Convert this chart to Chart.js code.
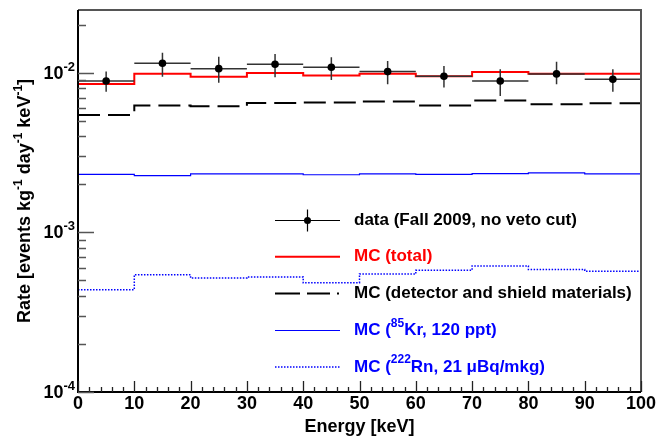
<!DOCTYPE html>
<html><head><meta charset="utf-8">
<script src="https://cdn.jsdelivr.net/npm/chart.js@4.4.1/dist/chart.umd.min.js"></script>
<style>html,body{margin:0;padding:0;background:#fff}#wrap{width:658px;height:438px}</style>
</head><body><div id="wrap"><canvas id="c" width="658" height="438"></canvas></div>
<script>
// ---- data ----
const binEdges = [0,10,20,30,40,50,60,70,80,90,100];
const binCenters = [5,15,25,35,45,55,65,75,85,95];
const dataRate = [0.00891,0.01150,0.01064,0.01134,0.01085,0.01019,0.00953,0.00891,0.00986,0.00913];
const dataHi   = [0.01019,0.01340,0.01265,0.01316,0.01254,0.01189,0.01106,0.01055,0.01177,0.01055];
const dataLo   = [0.00763,0.00948,0.00869,0.00939,0.00904,0.00849,0.00809,0.00718,0.00849,0.00763];
const mcTotal  = [0.00853,0.00990,0.00948,0.01000,0.00962,0.00990,0.00953,0.01015,0.00990,0.00990];
const mcDetector = [0.00545,0.00626,0.00618,0.00648,0.00652,0.00661,0.00626,0.00671,0.00636,0.00645];
const mcKr = [0.00231,0.00227,0.00233,0.00233,0.00230,0.00233,0.00231,0.00234,0.00236,0.00233];
const mcRn = [0.000437,0.000543,0.000519,0.000526,0.000484,0.000549,0.000580,0.000617,0.000585,0.000572];
const xTicks = [0,10,20,30,40,50,60,70,80,90,100];
const yDecades = [-4,-3,-2];

const FONT = '"Liberation Sans", Arial, Helvetica, sans-serif';
function hist(vals){ const d = vals.map((v,i)=>({x:binEdges[i],y:v})); d.push({x:binEdges[binEdges.length-1], y:vals[vals.length-1]}); return d; }

const rootDecor = {
  id:'rootDecor',
  afterDatasetsDraw(chart){
    const ctx = chart.ctx, xs = chart.scales.x, ys = chart.scales.y, a = chart.chartArea;
    ctx.save();
    // error bars + markers
    ctx.strokeStyle = '#333'; ctx.lineWidth = 1.5;
    binCenters.forEach((c,i)=>{
      const px = xs.getPixelForValue(c), py = ys.getPixelForValue(dataRate[i]);
      ctx.beginPath();
      ctx.moveTo(xs.getPixelForValue(c-5), py); ctx.lineTo(xs.getPixelForValue(c+5), py);
      ctx.moveTo(px, ys.getPixelForValue(dataHi[i])); ctx.lineTo(px, ys.getPixelForValue(dataLo[i]));
      ctx.stroke();
    });
    ctx.fillStyle = '#000';
    binCenters.forEach((c,i)=>{
      ctx.beginPath(); ctx.arc(xs.getPixelForValue(c), ys.getPixelForValue(dataRate[i]), 3.8, 0, Math.PI*2); ctx.fill();
    });
    // frame
    ctx.strokeStyle = '#555'; ctx.lineWidth = 2;
    ctx.beginPath(); ctx.moveTo(a.left, a.top); ctx.lineTo(a.right, a.top); ctx.lineTo(a.right, a.bottom); ctx.stroke();
    ctx.strokeStyle = '#000'; ctx.lineWidth = 2;
    ctx.beginPath(); ctx.moveTo(a.left, a.top); ctx.lineTo(a.left, a.bottom); ctx.lineTo(a.right, a.bottom); ctx.stroke();
    // x ticks
    ctx.strokeStyle = '#222'; ctx.lineWidth = 1.3;
    ctx.beginPath();
    for (let v=0; v<=100; v+=2){
      const px = Math.round(xs.getPixelForValue(v))+0.5;
      const len = (v%10===0)?11:5;
      ctx.moveTo(px, a.bottom); ctx.lineTo(px, a.bottom-len);
    }
    ctx.stroke();
    // y ticks
    ctx.strokeStyle = '#555'; ctx.lineWidth = 1.3;
    ctx.beginPath();
    for (let d=-4; d<=-2; d++){
      for (let m=1; m<=9; m++){
        const v = m*Math.pow(10,d);
        if (v < ys.min*0.999 || v > ys.max) continue;
        const py = Math.round(ys.getPixelForValue(v))+0.5;
        const len = m===1?16:8;
        ctx.moveTo(a.left, py); ctx.lineTo(a.left+len, py);
      }
    }
    ctx.stroke();
    // x tick labels
    ctx.fillStyle = '#000'; ctx.font = 'bold 18px '+FONT; ctx.textAlign='center'; ctx.textBaseline='middle';
    xTicks.forEach(v=>{ ctx.fillText(String(v), xs.getPixelForValue(v), a.bottom+12); });
    // y tick labels 10^d
    yDecades.forEach(d=>{
      const py = ys.getPixelForValue(Math.pow(10,d));
      ctx.textAlign='left'; ctx.textBaseline='middle';
      const sup = String(d);
      ctx.font = 'bold 13px '+FONT; const ws = ctx.measureText(sup).width;
      ctx.font = 'bold 18px '+FONT; const wb = ctx.measureText('10').width;
      const x0 = a.left - 3 - ws - wb;
      ctx.fillText('10', x0, py+1);
      ctx.font = 'bold 13px '+FONT; ctx.fillText(sup, x0+wb, py-6);
    });
    // x title
    ctx.font = 'bold 18px '+FONT; ctx.textAlign='center'; ctx.textBaseline='middle';
    ctx.fillText('Energy [keV]', (a.left+a.right)/2, 427);
    // y title with superscripts (rotated)
    const parts = [['Rate [events kg',0],['-1',1],[' day',0],['-1',1],[' keV',0],['-1',1],[']',0]];
    ctx.save();
    ctx.translate(25, (a.top+a.bottom)/2); ctx.rotate(-Math.PI/2);
    let tot = 0;
    parts.forEach(p=>{ ctx.font = (p[1]?'bold 12px ':'bold 18px ')+FONT; tot += ctx.measureText(p[0]).width; });
    let x = -tot/2; ctx.textAlign='left';
    parts.forEach(p=>{ ctx.font = (p[1]?'bold 12px ':'bold 18px ')+FONT; ctx.fillText(p[0], x, p[1]?-6:0); x += ctx.measureText(p[0]).width; });
    ctx.restore();
    // legend
    const lx0 = 275, lx1 = 340, tx = 354;
    const rows = [220.5, 256.7, 293.5, 330.5, 367];
    ctx.strokeStyle='#000'; ctx.lineWidth=1.2;
    ctx.beginPath(); ctx.moveTo(lx0, rows[0]); ctx.lineTo(lx1, rows[0]); ctx.moveTo((lx0+lx1)/2, rows[0]-11); ctx.lineTo((lx0+lx1)/2, rows[0]+11); ctx.stroke();
    ctx.beginPath(); ctx.arc((lx0+lx1)/2, rows[0], 3.5, 0, Math.PI*2); ctx.fill();
    ctx.strokeStyle='#ff0000'; ctx.lineWidth=2;
    ctx.beginPath(); ctx.moveTo(lx0, rows[1]); ctx.lineTo(lx1, rows[1]); ctx.stroke();
    ctx.strokeStyle='#000'; ctx.lineWidth=2; ctx.setLineDash([25,7,23,7,2,100]);
    ctx.beginPath(); ctx.moveTo(lx0, rows[2]); ctx.lineTo(lx1, rows[2]); ctx.stroke();
    ctx.setLineDash([]);
    ctx.strokeStyle='#0000ff'; ctx.lineWidth=1.2;
    ctx.beginPath(); ctx.moveTo(lx0, rows[3]); ctx.lineTo(lx1, rows[3]); ctx.stroke();
    ctx.setLineDash([1.5,1.5]); ctx.lineWidth=1.5;
    ctx.beginPath(); ctx.moveTo(lx0, rows[4]); ctx.lineTo(lx1, rows[4]); ctx.stroke();
    ctx.setLineDash([]);
    ctx.textAlign='left'; ctx.textBaseline='middle';
    function rich(parts, x, y, color){
      ctx.fillStyle = color;
      parts.forEach(p=>{ ctx.font=(p[1]?'bold 12px ':'bold 17px ')+FONT; ctx.fillText(p[0], x, p[1]?y-7:y); x += ctx.measureText(p[0]).width; });
    }
    rich([['data (Fall 2009, no veto cut)',0]], tx, rows[0], '#000');
    rich([['MC (total)',0]], tx, rows[1], '#ff0000');
    rich([['MC (detector and shield materials)',0]], tx, rows[2], '#000');
    rich([['MC (',0],['85',1],['Kr, 120 ppt)',0]], tx, rows[3], '#0000ff');
    rich([['MC (',0],['222',1],['Rn, 21 \u03BCBq/mkg)',0]], tx, rows[4], '#0000ff');
    ctx.restore();
  }
};

new Chart(document.getElementById('c'), {
  type:'line',
  data:{ datasets:[
    {label:'MC (Rn)', data:hist(mcRn), borderColor:'#0000ff', borderWidth:1.5, borderDash:[1.5,1.5], stepped:'before', pointRadius:0, fill:false},
    {label:'MC (Kr)', data:hist(mcKr), borderColor:'#0000ff', borderWidth:1.2, stepped:'before', pointRadius:0, fill:false},
    {label:'MC (detector)', data:hist(mcDetector), borderColor:'#000', borderWidth:2, borderDash:[22,8], stepped:'before', pointRadius:0, fill:false},
    {label:'MC (total)', data:hist(mcTotal), borderColor:'#ff0000', borderWidth:2, stepped:'before', pointRadius:0, fill:false}
  ]},
  options:{
    responsive:false, animation:false, devicePixelRatio:1,
    layout:{padding:{left:0, right:17, top:10, bottom:0}},
    plugins:{legend:{display:false}, tooltip:{enabled:false}},
    scales:{
      x:{type:'linear', min:0, max:100, grid:{display:false}, border:{display:false}, ticks:{display:false},
         afterFit(s){ s.height = 46; }},
      y:{type:'logarithmic', min:1e-4, max:0.0248, grid:{display:false}, border:{display:false}, ticks:{display:false},
         afterFit(s){ s.width = 78; }}
    }
  },
  plugins:[rootDecor]
});
</script></body></html>
